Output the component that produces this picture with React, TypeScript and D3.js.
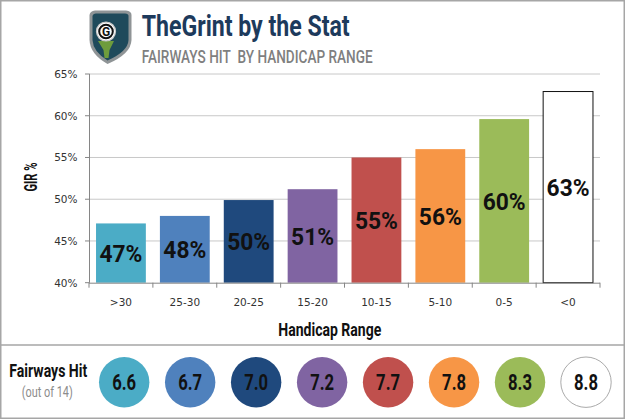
import React from "react";
import * as d3 from "d3";

const categories = [">30", "25-30", "20-25", "15-20", "10-15", "5-10", "0-5", "<0"];
const girValues = [47.1, 48.0, 49.9, 51.2, 55.0, 56.0, 59.6, 62.9];
const fairwaysHit = [6.6, 6.7, 7.0, 7.2, 7.7, 7.8, 8.3, 8.8];
const yTicks = [40, 45, 50, 55, 60, 65];
const colors = ["#4BACC6", "#4F81BD", "#1F497D", "#8064A2", "#C0504D", "#F79646", "#9BBB59", "#FFFFFF"];

const W = 625;
const H = 419;
const COND = "'Roboto', 'Liberation Sans Narrow', 'DejaVu Sans Condensed', sans-serif";
const TICKF = "'DejaVu Sans', Verdana, sans-serif";

export default function App() {
  const x = d3.scaleBand<string>().domain(categories).range([89, 600]).paddingInner(0.22).paddingOuter(0.11);
  const y = d3.scaleLinear().domain([40, 65]).range([282.7, 74]);
  const cx = d3.scalePoint<string>().domain(categories).range([124.2, 586]);
  const step = x.step();
  const x0 = 89;
  const boundaries = d3.range(categories.length + 1).map((i) => x0 + step * i * (511 / (step * categories.length)));

  return (
    <svg width={W} height={H} style={{ position: "absolute", left: 0, top: 0, background: "#fff" }}>
      <rect x={0} y={0} width={W} height={H} fill="#fff" />
      {/* logo */}
      <g>
        <path d="M89.5,15 Q90,11 95,10.5 L126,10.5 Q131.5,11 131.5,15 L131.5,40 Q131,54 107.5,64 Q90,54 89.5,40 Z" fill="#8f9496" />
        <path d="M92.5,16 Q93,13.5 96,13.5 L125,13.5 Q128.5,13.5 128.5,16 L128.5,40 Q128,51.5 107.5,60.5 Q93,51.5 92.5,40 Z" fill="#1f4a5b" />
        <path d="M98,41 L114,41 L109.5,50 L108.5,58 L104.5,58 L103.5,50 Z" fill="#6e9c3c" />
        <circle cx={106} cy={31.5} r={9.5} fill="#ffffff" stroke="#c9c9c9" strokeWidth={1.2} />
        <circle cx={106} cy={31.5} r={6.8} fill="none" stroke="#111" strokeWidth={2} />
        <text x={106} y={36} textAnchor="middle" fontFamily={COND} fontWeight={700} fontSize={12} fill="#111">G</text>
      </g>
      <text x={141.7} y={36} fontFamily={COND} fontWeight={700} fontSize={29.5} fill="#1d3a5c" textLength={208} lengthAdjust="spacingAndGlyphs">TheGrint by the Stat</text>
      <text x={141.7} y={62.5} fontFamily={COND} fontWeight={500} fontSize={18} fill="#7f7f7f" textLength={231} lengthAdjust="spacingAndGlyphs">{"FAIRWAYS HIT\u00a0 BY HANDICAP RANGE"}</text>

      {/* gridlines */}
      {yTicks.slice(1).map((t) => (
        <line key={"g" + t} x1={89} x2={600} y1={y(t)} y2={y(t)} stroke="#c8c8c8" strokeWidth={1} />
      ))}
      {/* y axis */}
      <line x1={89.5} x2={89.5} y1={y(65)} y2={y(40)} stroke="#868686" />
      {yTicks.map((t) => (
        <g key={"yt" + t}>
          <line x1={85} x2={89.5} y1={y(t)} y2={y(t)} stroke="#868686" />
          <text x={77.5} y={y(t) + 4} textAnchor="end" fontFamily={TICKF} fontSize={10.5} fill="#333">{t + "%"}</text>
        </g>
      ))}
      {/* bars */}
      {categories.map((c, i) => (
        <rect key={"b" + c} x={x(c)} y={y(girValues[i])} width={x.bandwidth()} height={y(40) - y(girValues[i])}
          fill={colors[i]} stroke={i === 7 ? "#111" : "none"} strokeWidth={1} />
      ))}
      {categories.map((c, i) => {
        const mid = (y(girValues[i]) + y(40)) / 2;
        const cxp = (x(c) as number) + x.bandwidth() / 2;
        return (
          <text key={"bl" + c} transform={`translate(${cxp},${mid + 8.7}) scale(0.95,1)`} textAnchor="middle"
            fontFamily={COND} fontWeight={700} fontSize={24} fill="#111">{Math.round(girValues[i]) + "%"}</text>
        );
      })}
      {/* x axis */}
      <line x1={89} x2={600} y1={y(40) + 0.5} y2={y(40) + 0.5} stroke="#868686" />
      {boundaries.map((b, i) => (
        <line key={"xt" + i} x1={b} x2={b} y1={y(40)} y2={y(40) + 5} stroke="#868686" />
      ))}
      {categories.map((c) => (
        <text key={"xl" + c} x={(x(c) as number) + x.bandwidth() / 2} y={305.5} textAnchor="middle" fontFamily={TICKF} fontSize={10.5} fill="#333">{c}</text>
      ))}
      <text x={278.3} y={335.5} fontFamily={COND} fontWeight={700} fontSize={18.5} fill="#111" textLength={103} lengthAdjust="spacingAndGlyphs">Handicap Range</text>
      <text transform="translate(37.3,177) rotate(-90)" textAnchor="middle" fontFamily={COND} fontWeight={700} fontSize={18.5} fill="#111" textLength={29} lengthAdjust="spacingAndGlyphs">GIR %</text>

      {/* separator */}
      <line x1={0} x2={W} y1={345} y2={345} stroke="#a6a6a6" strokeWidth={1.5} />
      <text x={9.3} y={377.3} fontFamily={COND} fontWeight={700} fontSize={18} fill="#111" textLength={78} lengthAdjust="spacingAndGlyphs">Fairways Hit</text>
      <text x={21.7} y={396.5} fontFamily={COND} fontWeight={400} fontSize={14} fill="#8c8c8c" textLength={51} lengthAdjust="spacingAndGlyphs">(out of 14)</text>
      {categories.map((c, i) => (
        <g key={"c" + c}>
          <circle cx={cx(c)} cy={382.2} r={25.2} fill={colors[i]} stroke={i === 7 ? "#aaaaaa" : "none"} strokeWidth={1} />
          <text transform={`translate(${cx(c)},${389.5}) scale(0.74,1)`} textAnchor="middle" fontFamily={COND} fontWeight={700} fontSize={22.5} fill="#111">{fairwaysHit[i].toFixed(1)}</text>
        </g>
      ))}
      {/* outer frame */}
      <rect x={0.75} y={0.75} width={W - 1.5} height={H - 1.5} fill="none" stroke="#a6a6a6" strokeWidth={1.5} />
    </svg>
  );
}
